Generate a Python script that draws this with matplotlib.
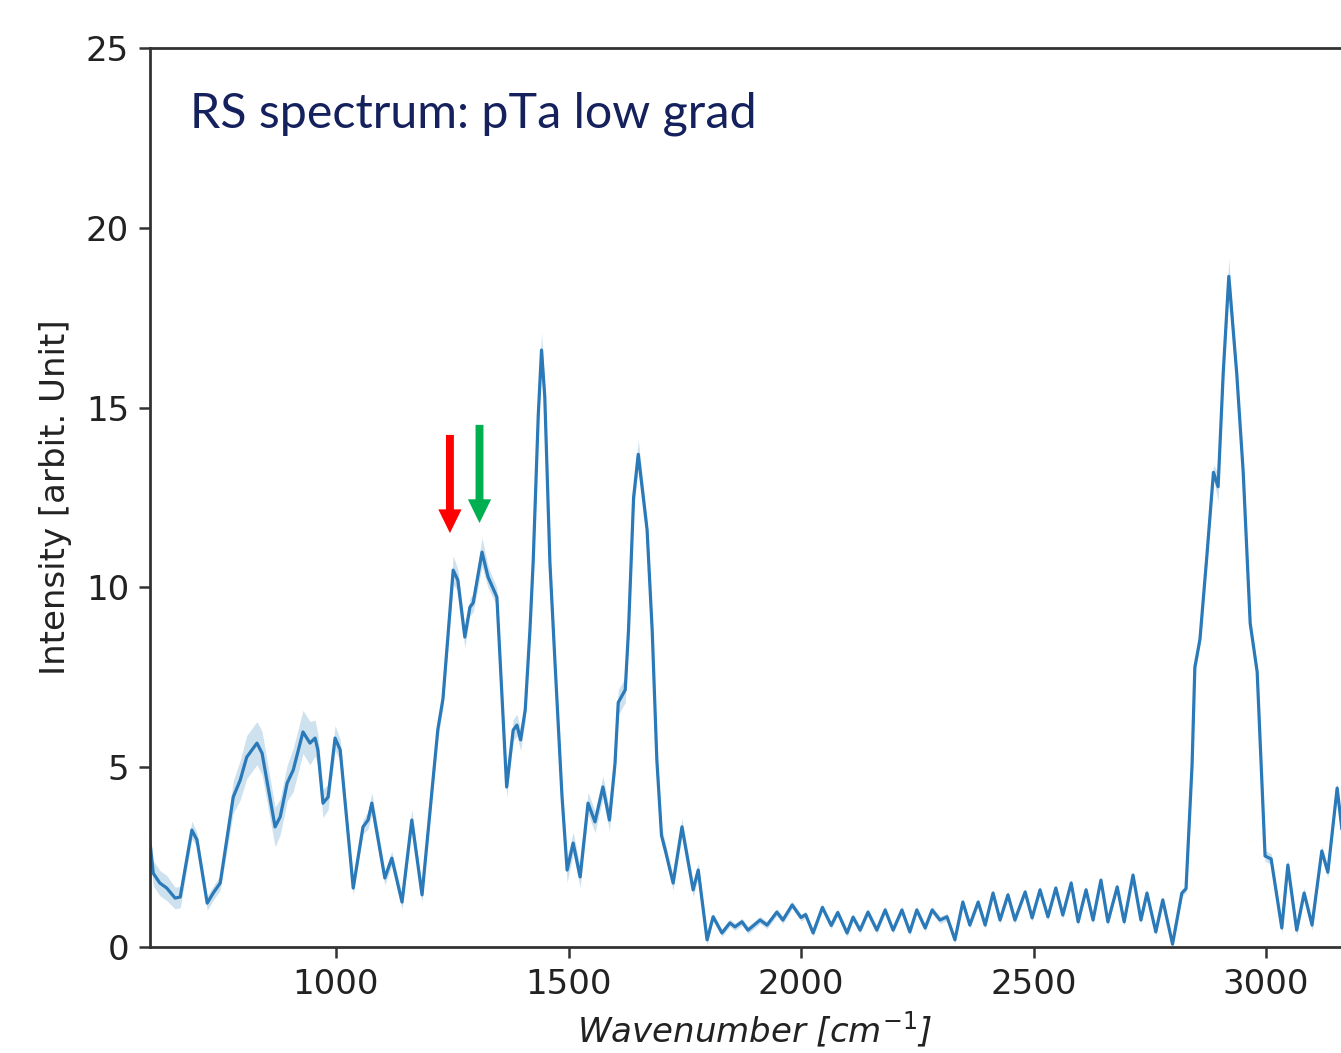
import numpy as np
import matplotlib
matplotlib.use("Agg")
import matplotlib.pyplot as plt

# ---- data ----
wavenumber = [600, 607, 621, 636, 654, 665, 690, 701, 723, 736, 751, 779, 794, 808, 830, 841,
              869, 880, 895, 908, 929, 944, 955, 961, 972, 983, 998, 1009, 1037, 1058, 1069,
              1077, 1105, 1120, 1142, 1163, 1185, 1219, 1230, 1252, 1262, 1277, 1288, 1295,
              1314, 1327, 1346, 1367, 1381, 1389, 1397, 1407, 1417, 1424, 1435, 1442, 1449,
              1460, 1471, 1486, 1497, 1510, 1525, 1542, 1557, 1574, 1588, 1600, 1607, 1622,
              1629, 1640, 1650, 1669, 1680, 1690, 1700, 1708, 1725, 1744, 1768, 1779, 1798,
              1811, 1830, 1847, 1858, 1873, 1886, 1912, 1927, 1948, 1961, 1981, 2000, 2010,
              2026, 2046, 2065, 2079, 2099, 2112, 2127, 2144, 2163, 2181, 2198, 2217, 2234,
              2249, 2267, 2282, 2299, 2314, 2331, 2348, 2363, 2381, 2396, 2413, 2428, 2445,
              2460, 2482, 2497, 2514, 2531, 2548, 2563, 2581, 2596, 2613, 2628, 2645, 2660,
              2680, 2695, 2714, 2731, 2744, 2763, 2778, 2799, 2819, 2828, 2841, 2847, 2858,
              2873, 2887, 2897, 2908, 2920, 2937, 2951, 2966, 2981, 2998, 3011, 3034, 3047,
              3066, 3082, 3099, 3120, 3133, 3153, 3163]

intensity = [2.9, 2.05, 1.78, 1.64, 1.36, 1.39, 3.25, 2.98, 1.22, 1.5, 1.78, 4.17, 4.64, 5.28, 5.67, 5.39,
             3.34, 3.62, 4.56, 4.92, 5.98, 5.67, 5.81, 5.48, 4.0, 4.17, 5.81, 5.48, 1.64, 3.34, 3.53,
             4.0, 1.92, 2.47, 1.25, 3.53, 1.45, 6.05, 6.9, 10.48, 10.2, 8.62, 9.45, 9.57,
             10.98, 10.29, 9.73, 4.45, 6.03, 6.17, 5.76, 6.6, 8.8, 10.7, 14.8, 16.6, 15.3,
             10.7, 7.9, 4.2, 2.14, 2.89, 1.95, 4.0, 3.48, 4.45, 3.53, 5.1, 6.8, 7.15,
             8.8, 12.5, 13.7, 11.6, 8.8, 5.2, 3.1, 2.7, 1.78, 3.34, 1.59, 2.14, 0.2,
             0.84, 0.39, 0.67, 0.56, 0.7, 0.47, 0.75, 0.61, 0.97, 0.75, 1.17, 0.82, 0.9,
             0.39, 1.1, 0.6, 0.96, 0.39, 0.83, 0.47, 0.97, 0.47, 1.03, 0.47, 1.03, 0.42,
             1.03, 0.53, 1.03, 0.75, 0.84, 0.2, 1.25, 0.61, 1.25, 0.61, 1.5, 0.75, 1.45,
             0.75, 1.53, 0.81, 1.59, 0.84, 1.64, 0.89, 1.78, 0.7, 1.59, 0.75, 1.86, 0.7,
             1.67, 0.7, 2.0, 0.75, 1.5, 0.42, 1.31, 0.08, 1.5, 1.62, 5.06, 7.78, 8.56,
             10.9, 13.2, 12.8, 15.96, 18.65, 15.96, 13.2, 9.0, 7.65, 2.53, 2.45, 0.53, 2.28,
             0.47, 1.5, 0.61, 2.67, 2.08, 4.42, 3.3]

spread = [0.35, 0.35, 0.35, 0.35, 0.3, 0.3, 0.25, 0.2, 0.2, 0.2, 0.2, 0.45, 0.55, 0.6, 0.6, 0.6,
          0.55, 0.5, 0.5, 0.6, 0.6, 0.6, 0.5, 0.45, 0.4, 0.35, 0.35, 0.3, 0.2, 0.2, 0.25,
          0.3, 0.2, 0.2, 0.2, 0.3, 0.2, 0.25, 0.25, 0.4, 0.3, 0.3, 0.25, 0.25,
          0.4, 0.3, 0.25, 0.3, 0.3, 0.3, 0.3, 0.3, 0.25, 0.25, 0.3, 0.5, 0.3,
          0.2, 0.2, 0.3, 0.35, 0.3, 0.3, 0.3, 0.3, 0.3, 0.3, 0.3, 0.35, 0.35,
          0.3, 0.3, 0.4, 0.3, 0.25, 0.25, 0.25, 0.2, 0.2, 0.25, 0.2, 0.2, 0.15,
          0.1, 0.1, 0.1, 0.1, 0.1, 0.1, 0.1, 0.1, 0.1, 0.1, 0.1, 0.1, 0.1,
          0.1, 0.1, 0.1, 0.1, 0.1, 0.1, 0.1, 0.1, 0.1, 0.1, 0.1, 0.1, 0.1,
          0.1, 0.1, 0.1, 0.1, 0.1, 0.1, 0.1, 0.1, 0.1, 0.1, 0.1, 0.1, 0.1,
          0.1, 0.1, 0.1, 0.1, 0.1, 0.1, 0.1, 0.1, 0.1, 0.1, 0.1, 0.1, 0.1,
          0.1, 0.1, 0.1, 0.1, 0.1, 0.1, 0.1, 0.1, 0.1, 0.1, 0.15, 0.2, 0.15,
          0.15, 0.2, 0.4, 0.2, 0.5, 0.2, 0.15, 0.15, 0.15, 0.15, 0.15, 0.15, 0.15,
          0.15, 0.15, 0.15, 0.15, 0.15, 0.15, 0.15]

assert len(wavenumber) == len(intensity) == len(spread)

x_ticks = [1000, 1500, 2000, 2500, 3000]
y_ticks = [0, 5, 10, 15, 20, 25]

title_text = "RS spectrum: pTa low grad"
x_label = r"Wavenumber [$cm^{-1}$]"
y_label = "Intensity [arbit. Unit]"

# arrows: x position, tail y, tip y, colour
arrow_x = [1245, 1308.6]
arrow_tail = [14.24, 14.52]
arrow_tip = [11.51, 11.79]
arrow_colors = ["#ff0000", "#00b050"]

# ---- figure ----
x = np.array(wavenumber, dtype=float)
y = np.array(intensity, dtype=float)
s = np.array(spread, dtype=float)

fig = plt.figure(figsize=(13.41, 10.53), dpi=100)
ax = fig.add_axes([150 / 1341, 106 / 1053, 2600 * 0.465 / 1341, 899 / 1053])

ax.fill_between(x, y - s, y + s, color="#1f77b4", alpha=0.22, lw=0)
ax.plot(x, y, color="#2a79b8", lw=2.3, solid_joinstyle="round")

ax.set_xlim(600, 3200)
ax.set_ylim(0, 25)
ax.set_xticks(x_ticks)
ax.set_yticks(y_ticks)
ax.tick_params(labelsize=24.5, length=8, width=1.8, pad=7, color="#333333",
               labelcolor="#222222")
for sp in ax.spines.values():
    sp.set_linewidth(2.0)
    sp.set_color("#333333")

ax.set_xlabel(x_label, fontsize=24.5, style="italic", color="#222222", labelpad=6)
ax.set_ylabel(y_label, fontsize=24.5, color="#222222", labelpad=10)

for ax_x, t0, t1, c in zip(arrow_x, arrow_tail, arrow_tip, arrow_colors):
    ax.arrow(ax_x, t0, 0, t1 - t0, width=17, head_width=50, head_length=0.66,
             length_includes_head=True, color=c, lw=0, zorder=5)

# title text fitted to the reference width
t = fig.text(190 / 1341, 1 - 127 / 1053, title_text, fontsize=36, family="Lato",
             color="#14215c", ha="left", va="baseline")
fig.canvas.draw()
w = t.get_window_extent().width
t.set_fontsize(36 * 567 / w)

fig.savefig("out.png", dpi=100)
